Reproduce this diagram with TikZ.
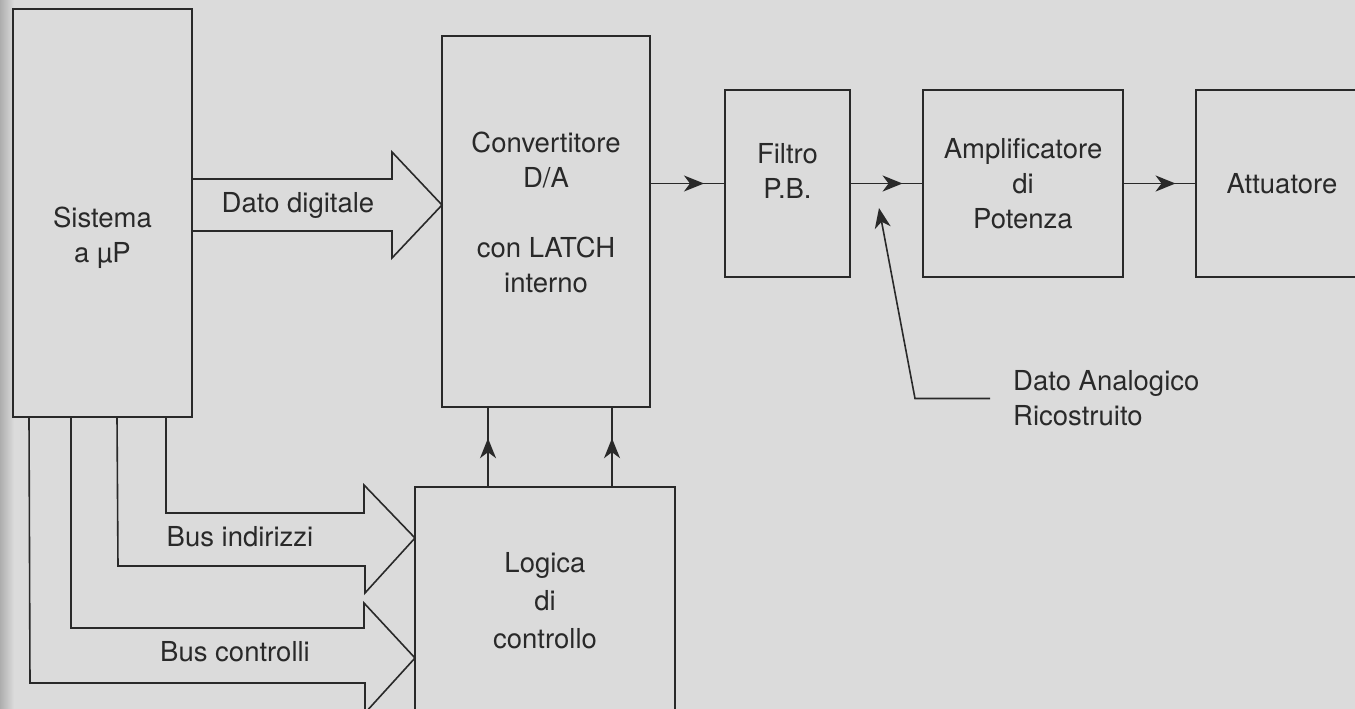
\documentclass[tikz,border=0pt]{standalone}
\usepackage{fontspec}
\setmainfont{TeX Gyre Heros}
\usetikzlibrary{arrows.meta,positioning}
\usetikzlibrary{decorations.markings}
\usetikzlibrary{calc}

\definecolor{paper}{gray}{0.86}
\definecolor{ink}{gray}{0.16}

\begin{document}
\begin{tikzpicture}[
    x=1pt, y=-1pt,
    node distance=73pt,
    block/.style={draw=ink,line width=1.6pt,inner sep=0pt,outer sep=0pt,
        align=center,text=ink,font=\fontsize{27.5}{35}\selectfont},
    txt/.style={inner sep=0pt,text=ink,align=center,font=\fontsize{27.5}{35}\selectfont},
    bus/.style={draw=ink,line width=1.6pt,line join=miter},
    flow/.style={draw=ink,line width=1.6pt,postaction={decorate},
        decoration={markings,mark=at position #1 with
            {\arrow{Stealth[length=20pt,width=16pt,inset=6pt]}}}},
    flow/.default=0.72,
]

\useasboundingbox (0,0) rectangle (1355,709);
\clip (0,0) rectangle (1355,709);
\fill[paper] (0,0) rectangle (1355,709);
\shade[left color=black!32,right color=paper] (0,0) rectangle (14,709);

%----------------------------------
% Blocks
%----------------------------------

\node[block,minimum width=179pt,minimum height=408pt,
    label={[txt,name=sistemaT,yshift=-25pt]center:{Sistema\\a µP}}]
    (sistema) at (102.5,213) {};

\node[block,minimum width=208pt,minimum height=371pt,
    label={[txt,name=convT,yshift=9pt]center:{Convertitore\\D/A\\[35pt]con LATCH\\interno}}]
    (conv) at (546,221.5) {};

\node[block,minimum width=260pt,minimum height=228pt] (logica) at (545,601)
    {Logica\\[3pt]di\\[3pt]controllo};

\node[block,minimum width=125pt,minimum height=187pt,
    label={[txt,name=filtroT,yshift=13pt]center:{Filtro\\P.B.}}]
    (filtro) at (787.5,183.5) {};
\node[block,minimum width=200pt,minimum height=187pt,right=of filtro] (amp)
    {Amplificatore\\di\\Potenza};
\node[block,minimum width=220pt,minimum height=187pt,right=of amp] (att) {};
\node[txt] (attT) at (1282,183.5) {Attuatore};

%----------------------------------
% Buses
%----------------------------------

\coordinate (ddtip) at (conv.west |- 0,205);
\draw[bus] (sistema.east |- 0,179) -- ++(200,0) -- ++(0,-27) -- (ddtip)
    -- ++(-50,53) -- ++(0,-27) -- (sistema.east |- 0,231);
\node[txt] (ddT) at (298,205) {Dato digitale};

\coordinate (aitip) at (logica.west |- 0,538);
\draw[bus] ([xshift=153pt]sistema.south west) -- ++(0,96) -- ++(198,0)
    -- ++(0,-28) -- (aitip) -- ++(-50,55) -- ++(0,-27) -- ++(-247,0)
    -- ([xshift=104pt]sistema.south west);
\node[txt] (aiT) at (240,537) {Bus indirizzi};

\coordinate (cttip) at (logica.west |- 0,658);
\draw[bus] ([xshift=58pt]sistema.south west) -- ++(0,211) -- ++(293,0)
    -- ++(0,-25) -- (cttip) -- ++(-50,55) -- ++(0,-30) -- ++(-335,0)
    -- ([xshift=16pt]sistema.south west);
\node[txt] (ctT) at (235,652) {Bus controlli};

%----------------------------------
% Signal path
%----------------------------------

\draw[flow=0.61] ([xshift=-57pt]logica.north) -- ([xshift=-57pt]logica.north |- conv.south);
\draw[flow=0.61] ([xshift=67pt]logica.north) -- ([xshift=67pt]logica.north |- conv.south);

\draw[flow] (conv.east |- filtro.west) -- (filtro.west);
\draw[flow] (filtro.east) -- (amp.west);
\draw[flow] (amp.east) -- (att.west);

\node[txt,align=left,anchor=west] (analog) at (1013,398.5)
    {Dato Analogico\\Ricostruito};
\coordinate (analogtip) at (879,208);
\draw[ink,line width=1.6pt,-{Stealth[length=20pt,width=16pt,inset=6pt]}]
    ([xshift=-23pt]analog.west) -- ++(-75,0) -- (analogtip);

\end{tikzpicture}
\end{document}
